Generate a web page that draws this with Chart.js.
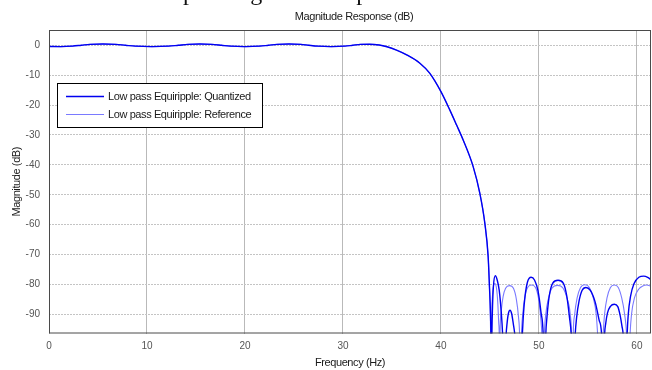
<!DOCTYPE html>
<html>
<head>
<meta charset="utf-8">
<script src="https://cdn.jsdelivr.net/npm/chart.js@4.4.0/dist/chart.umd.min.js"></script>
<style>
  body { margin: 0; background: #fff; }
  #wrap { width: 652px; height: 370px; }
</style>
</head>
<body>
<div id="wrap"><canvas id="myChart" width="652" height="370"></canvas></div>
<script>
// values (Hz / dB)
var xTicks = [0, 10, 20, 30, 40, 50, 60];
var yTicks = [0, -10, -20, -30, -40, -50, -60, -70, -80, -90];

// passband + transition, both filters lie on top of each other here
var passFreq = [0, 1.2, 2.4, 3.3, 4.2, 5.5, 6.8, 7.8, 8.8, 10.5, 12.2, 13.2, 14.2, 15.4, 16.6, 17.6, 18.5, 20.0, 21.5, 22.4,
  23.3, 24.5, 25.7, 26.5, 27.4, 28.8, 30.2, 31.0, 31.8, 32.7, 33.7, 34.5, 35.46, 36.5, 37.85, 38.87, 40.0, 40.9, 41.6, 42.27,
  43.29, 43.97, 44.48, 44.82, 44.95];
var passMag = [-0.42, -0.45, -0.3, 0.0, 0.3, 0.43, 0.3, 0.0, -0.3, -0.45, -0.3, 0.0, 0.3, 0.43, 0.3, 0.0, -0.3, -0.45, -0.3, 0.0,
  0.3, 0.43, 0.3, 0.0, -0.3, -0.45, -0.3, 0.0, 0.3, 0.35, 0.1, -0.5, -1.6, -3.2, -6.0, -9.4, -15.5, -21.6, -26.7, -31.7,
  -40.6, -49.5, -59.5, -70.7, -80.5];

// stopband, quantized filter
var quantFreq = [45.06, 45.1, 45.14, 45.2, 45.27, 45.36, 45.55, 45.75, 45.95, 46.15, 46.3, 46.47, 46.65, 46.75, 46.88, 47.05,
  47.22, 47.38, 47.55, 47.9, 48.3, 48.42, 48.6, 48.85, 49.2, 49.55, 49.9, 50.2, 50.44, 50.57, 50.7, 50.82, 51.05, 51.4, 51.95,
  52.5, 52.85, 53.12, 53.3, 53.5, 53.7, 53.85, 54.1, 54.4, 54.8, 55.25, 55.75, 56.15, 56.4, 56.55, 56.7, 56.82, 57.0, 57.3,
  57.7, 58.05, 58.3, 58.48, 58.6, 58.8, 59.0, 59.12, 59.35, 59.7, 60.2, 60.7, 61.1, 61.44];
var quantMag = [-90, -97, -115, -97, -87, -80.5, -77.1, -78.6, -82, -89, -97, -115, -97, -93, -89.8, -88.6,
  -89.8, -93, -97, -112, -97, -90, -83.5, -79, -77.6, -78.5, -82, -89, -97, -115, -97, -91, -84, -79.6, -78.6,
  -79.6, -84, -91, -97, -115, -97, -91, -85.5, -82, -81, -82, -86, -92, -97, -115, -97, -93, -89.5, -87.3,
  -86.6, -87.4, -90.5, -94, -97, -115, -97, -90, -84, -79.8, -77.6, -77.2, -77.6, -78.4];

// stopband, reference filter
var refFreq = [45.04, 45.07, 45.1, 45.14, 45.2, 45.3, 45.5, 45.68, 45.8, 45.9, 45.95, 45.99, 46.03, 46.15, 46.35, 46.6, 47.0,
  47.4, 47.7, 47.92, 48.03, 48.12, 48.22, 48.35, 48.55, 48.85, 49.25, 49.65, 49.95, 50.18, 50.3, 50.42, 50.55, 50.7, 50.95,
  51.35, 51.9, 52.45, 52.9, 53.2, 53.33, 53.42, 53.5, 53.65, 53.9, 54.25, 54.7, 55.15, 55.55, 55.85, 56.0, 56.3, 56.55, 56.7,
  56.95, 57.3, 57.7, 58.1, 58.45, 58.75, 58.95, 59.12, 59.3, 59.45, 59.75, 60.2, 60.6, 61.0, 61.44];
var refMag = [-90, -97, -115, -97, -88, -82, -79.7, -81.5, -86, -93, -97, -115, -97, -89, -84, -81.3, -80.4,
  -81.3, -85, -91, -97, -115, -97, -90, -84.5, -81, -80.2, -81, -84.5, -91, -97, -115, -97, -90, -85,
  -81.2, -80.3, -81.2, -85, -90, -97, -115, -97, -90, -84.5, -81, -80.1, -81, -84.5, -90, -97, -115, -97, -90,
  -84.5, -81, -80.2, -81, -84.5, -90, -97, -115, -97, -90, -84.5, -81.5, -80.5, -80.2, -80.6];

var seriesNames = ['Low pass Equiripple: Quantized', 'Low pass Equiripple: Reference'];

function toPoints(fs, ms) {
  return fs.map(function (f, i) { return { x: f, y: ms[i] }; });
}

var FONT = "'Liberation Sans', Arial, sans-serif";

var decor = {
  id: 'decor',
  beforeDraw: function (chart) {
    var c = chart.ctx;
    c.save();
    c.fillStyle = '#fff';
    c.fillRect(0, 0, chart.width, chart.height);
    c.restore();
  },
  afterDraw: function (chart) {
    var c = chart.ctx, a = chart.chartArea;
    c.save();
    // axes box
    c.strokeStyle = '#4a4a4a';
    c.lineWidth = 1;
    c.strokeRect(a.left + 0.5, a.top + 0.5, a.right - a.left - 1, a.bottom - a.top - 1);

    // caption of the page above, only its descenders show
    c.fillStyle = '#111';
    c.font = "24px 'Liberation Serif', serif";
    c.textBaseline = 'alphabetic';
    c.textAlign = 'left';
    c.fillText('Sample Magnitude response', 183 - c.measureText('Sam').width, 0);

    // titles
    c.letterSpacing = '-0.4px';
    c.fillStyle = '#1a1a1a';
    c.font = '11px ' + FONT;
    c.textAlign = 'center';
    c.textBaseline = 'middle';
    c.fillText('Magnitude Response (dB)', 354, 17);
    c.fillText('Frequency (Hz)', (a.left + a.right) / 2, 363);
    c.save();
    c.translate(17, (a.top + a.bottom) / 2);
    c.rotate(-Math.PI / 2);
    c.fillText('Magnitude (dB)', 0, 0);
    c.restore();

    // legend
    c.fillStyle = '#fff';
    c.fillRect(57, 83, 205, 44);
    c.strokeStyle = '#000';
    c.strokeRect(57.5, 83.5, 205, 44);
    chart.data.datasets.forEach(function (ds, i) {
      var y = 96.5 + i * 18;
      c.strokeStyle = ds.borderColor;
      c.lineWidth = ds.borderWidth;
      c.beginPath();
      c.moveTo(66, y);
      c.lineTo(104, y);
      c.stroke();
      c.fillStyle = '#1a1a1a';
      c.textAlign = 'left';
      c.fillText(ds.label, 108, y);
    });
    c.restore();
  }
};

var ctx = document.getElementById('myChart');
var myChart = new Chart(ctx, {
  type: 'line',
  data: {
    datasets: [
      {
        label: seriesNames[0],
        data: toPoints(passFreq.concat(quantFreq), passMag.concat(quantMag)),
        borderColor: '#0000f0',
        borderWidth: 1.4,
        pointRadius: 0,
        cubicInterpolationMode: 'monotone',
        fill: false
      },
      {
        label: seriesNames[1],
        data: toPoints(passFreq.concat(refFreq), passMag.concat(refMag)),
        borderColor: '#7a7aff',
        borderWidth: 1.1,
        pointRadius: 0,
        cubicInterpolationMode: 'monotone',
        fill: false
      }
    ]
  },
  options: {
    responsive: false,
    animation: false,
    layout: { padding: { top: 30, right: 1, left: 0, bottom: 0 } },
    plugins: {
      legend: { display: false },
      title: { display: false },
      tooltip: { enabled: false }
    },
    scales: {
      x: {
        type: 'linear',
        min: 0,
        max: 61.44,
        afterBuildTicks: function (s) { s.ticks = xTicks.map(function (v) { return { value: v }; }); },
        afterFit: function (s) { s.height = 36.5; },
        grid: { color: '#b9b9b9', drawTicks: false },
        border: { display: false },
        ticks: { color: '#555', padding: 7, font: { family: FONT, size: 10 }, maxRotation: 0 }
      },
      y: {
        type: 'linear',
        min: -96.4,
        max: 5.1,
        afterBuildTicks: function (s) { s.ticks = yTicks.map(function (v) { return { value: v }; }); },
        afterFit: function (s) { s.width = 49; },
        grid: { color: '#c4c4c4', drawTicks: false },
        border: { display: false, dash: [2, 1] },
        ticks: { color: '#555', padding: 9, font: { family: FONT, size: 10 } }
      }
    }
  },
  plugins: [decor]
});
</script>
</body>
</html>
